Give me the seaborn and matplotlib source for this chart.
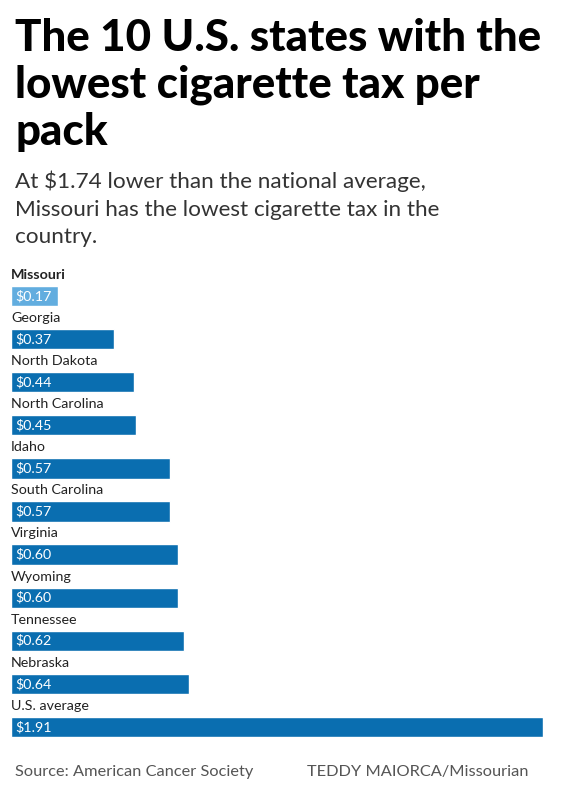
import matplotlib
matplotlib.use("Agg")
import matplotlib.pyplot as plt
import seaborn as sns
import pandas as pd

# dane
states = ["Missouri", "Georgia", "North Dakota", "North Carolina", "Idaho",
          "South Carolina", "Virginia", "Wyoming", "Tennessee", "Nebraska",
          "U.S. average"]
tax = [0.17, 0.37, 0.44, 0.45, 0.57, 0.57, 0.60, 0.60, 0.62, 0.64, 1.91]
highlight = ["yes", "no", "no", "no", "no", "no", "no", "no", "no", "no", "no"]

df = pd.DataFrame({"state": states, "tax": tax, "hl": highlight})

sns.set_style("white")
plt.rcParams['font.family'] = ['Lato', 'DejaVu Sans']

fig = plt.figure(figsize=(5.62, 7.87), dpi=100)
W, H = 562, 787
ax = fig.add_axes([11 / W, 1 - 745 / H, 532 / W, 483 / H])

sns.barplot(data=df, y="state", x="tax", hue="hl",
            palette={"yes": "#62addf", "no": "#0a6eb0"}, saturation=1,
            orient="h", width=0.47, legend=False, ax=ax)

ax.set_xlim(0, 1.91)
ax.set_ylim(10.42, -0.79)
ax.axis("off")

for i, (s, v) in enumerate(zip(states, tax)):
    ax.text(0, i - 0.49, s, ha="left", va="center", fontsize=10.3,
            color="#222222", fontweight="bold" if i == 0 else "normal")
    ax.text(0.017, i, f"${v:.2f}", ha="left", va="center", fontsize=10.3,
            color="white")

# tytuł i podtytuł
fig.text(15 / W, 1 - 18 / H,
         "The 10 U.S. states with the\nlowest cigarette tax per\npack",
         ha="left", va="top", fontsize=31.6, fontweight="black",
         color="black", linespacing=1.2)
fig.text(15 / W, 1 - 171 / H,
         "At $1.74 lower than the national average,\nMissouri has the lowest cigarette tax in the\ncountry.",
         ha="left", va="top", fontsize=16.2, fontweight="normal",
         color="#333333", linespacing=1.45)

# stopka
fig.text(15 / W, 1 - 772 / H, "Source: American Cancer Society",
         ha="left", va="center", fontsize=11.8, color="#555555")
fig.text(307 / W, 1 - 772 / H, "TEDDY MAIORCA/Missourian",
         ha="left", va="center", fontsize=11.8, color="#555555")

fig.savefig("out.png", dpi=100, facecolor="white")
